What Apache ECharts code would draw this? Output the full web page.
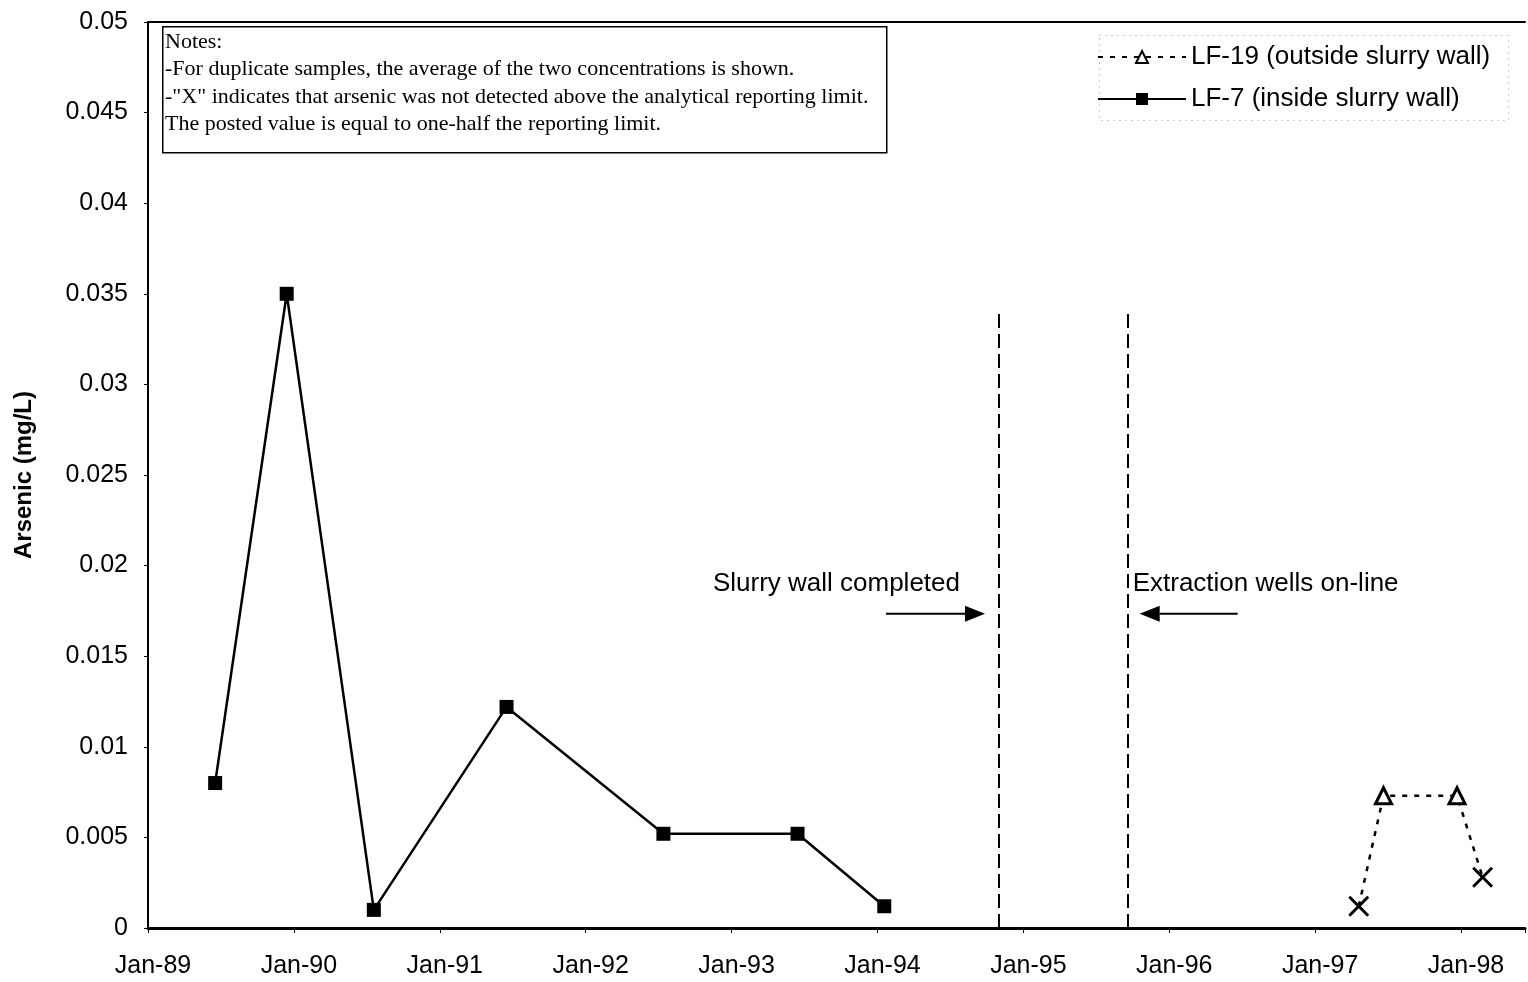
<!DOCTYPE html>
<html>
<head>
<meta charset="utf-8">
<title>Arsenic concentrations, LF-7 and LF-19</title>
<script src="https://cdn.jsdelivr.net/npm/echarts@6/dist/echarts.min.js"></script>
<style>
  html, body { margin: 0; padding: 0; background: #fff; }
  #chart { width: 1528px; height: 982px; }
</style>
</head>
<body>
<div id="chart"></div>
<script>
// ---- data ----
const lf7Dates  = ['1989-06-18', '1989-12-14', '1990-07-20', '1991-06-17', '1992-07-14', '1993-06-15', '1994-01-18'];
const lf7Values = [0.008, 0.035, 0.001, 0.0122, 0.0052, 0.0052, 0.0012];

const lf19Dates     = ['1997-04-20', '1997-06-21', '1997-12-22', '1998-02-24'];
const lf19Values    = [0.0012, 0.0073, 0.0073, 0.0028];
const lf19NotDetect = [true, false, false, true];

const eventDates  = ['1994-11-01', '1995-09-19'];
const eventLabels = ['Slurry wall completed', 'Extraction wells on-line'];
const eventTop    = 0.0342;  // dashed event lines run from 0 up to this level
const eventTextY  = 0.019;   // level of the annotation text

const axisStart = '1989-01-01';
const axisEnd   = '1998-06-10';
const yTicks    = [0, 0.005, 0.01, 0.015, 0.02, 0.025, 0.03, 0.035, 0.04, 0.045, 0.05];

const notes = [
  'Notes:',
  '-For duplicate samples, the average of the two concentrations is shown.',
  '-"X" indicates that arsenic was not detected above the analytical reporting limit.',
  'The posted value is equal to one-half the reporting limit.'
];

// ---- helpers ----
function toYear(s) {
  const d = new Date(s + 'T00:00:00Z');
  const y = d.getUTCFullYear();
  const start = Date.UTC(y, 0, 1), end = Date.UTC(y + 1, 0, 1);
  return y + (d.getTime() - start) / (end - start);
}

const SANS = 'Liberation Sans, Arial, sans-serif';
const SERIF = 'Liberation Serif, Times New Roman, serif';
const crossPath = 'path://M2,0 L10,8 L18,0 L20,2 L12,10 L20,18 L18,20 L10,12 L2,20 L0,18 L8,10 L0,2 Z';

const xMin = toYear(axisStart), xMax = toYear(axisEnd);

const lf7Data = lf7Dates.map((d, i) => [toYear(d), lf7Values[i]]);
const lf19Data = lf19Dates.map((d, i) => lf19NotDetect[i]
  ? { value: [toYear(d), lf19Values[i]], symbol: crossPath, symbolSize: 21,
      itemStyle: { color: '#000', borderWidth: 0 } }
  : { value: [toYear(d), lf19Values[i]] });

const eventLines = eventDates.map(d => [
  { coord: [toYear(d), 0] },
  { coord: [toYear(d), eventTop] }
]);

const chart = echarts.init(document.getElementById('chart'), null, { renderer: 'canvas' });

chart.setOption({
  animation: false,
  backgroundColor: '#fff',
  textStyle: { fontFamily: SANS, color: '#000' },
  grid: { left: 148, right: 0, top: 22, bottom: 54 },
  legend: {
    orient: 'vertical',
    left: 1097, top: 44,
    padding: 0,
    itemWidth: 88, itemHeight: 15, itemGap: 16,
    textStyle: { fontSize: 26, color: '#000', fontFamily: SANS, lineHeight: 26 },
    data: ['LF-19 (outside slurry wall)', 'LF-7 (inside slurry wall)']
  },
  xAxis: [{
    type: 'value', min: xMin, max: xMax, interval: 1,
    axisLine: { lineStyle: { color: '#000', width: 3 } },
    axisTick: { length: 5, lineStyle: { color: '#000', width: 1 } },
    axisLabel: {
      fontSize: 25, color: '#000', margin: 26, fontFamily: SANS,
      padding: [0, 0, 0, 10],
      formatter: v => Math.abs(v - Math.round(v)) < 1e-6 ? 'Jan-' + String(Math.round(v)).slice(2) : ''
    },
    splitLine: { show: false }
  }, {
    type: 'value', position: 'top', min: xMin, max: xMax,
    axisLine: { lineStyle: { color: '#000', width: 2 } },
    axisTick: { show: false }, axisLabel: { show: false }, splitLine: { show: false }
  }],
  yAxis: {
    type: 'value', min: yTicks[0], max: yTicks[yTicks.length - 1], interval: yTicks[1] - yTicks[0],
    name: 'Arsenic (mg/L)', nameLocation: 'middle', nameGap: 112,
    nameTextStyle: { fontSize: 24, fontWeight: 'bold', color: '#000', fontFamily: SANS },
    axisLine: { show: true, lineStyle: { color: '#000', width: 2 } },
    axisTick: { show: true, length: 4, lineStyle: { color: '#000', width: 1 } },
    axisLabel: {
      fontSize: 25, color: '#000', margin: 20, fontFamily: SANS,
      formatter: v => v === 0 ? '0' : String(+v.toFixed(4))
    },
    splitLine: { show: false }
  },
  series: [{
    name: 'LF-19 (outside slurry wall)',
    type: 'line',
    data: lf19Data,
    symbol: 'triangle', symbolSize: 16,
    itemStyle: { color: '#fff', borderColor: '#000', borderWidth: 3 },
    lineStyle: { color: '#000', width: 2.5, type: [5, 7] },
    z: 3
  }, {
    name: 'LF-7 (inside slurry wall)',
    type: 'line',
    data: lf7Data,
    symbol: 'rect', symbolSize: 14,
    itemStyle: { color: '#000' },
    lineStyle: { color: '#000', width: 2.5 },
    z: 3,
    markLine: {
      silent: true, symbol: 'none', animation: false,
      label: { show: false },
      lineStyle: { color: '#000', width: 2, type: [14, 6] },
      data: eventLines
    }
  }]
});

// ---- annotations placed from data coordinates ----
function px(x, y) { return chart.convertToPixel({ gridIndex: 0 }, [x, y]); }

const graphics = [];

// notes box
graphics.push({
  type: 'rect', left: 162, top: 26, z: 10,
  shape: { width: 724, height: 126 },
  style: { fill: '#fff', stroke: '#000', lineWidth: 1.5 }
});
notes.forEach((t, i) => graphics.push({
  type: 'text', x: 165, y: 42 + i * 27.5, z: 11,
  style: { text: t, font: '22px ' + SERIF, fill: '#000', textVerticalAlign: 'middle' }
}));

// legend frame
graphics.push({
  type: 'rect', left: 1097, top: 33, z: 0,
  shape: { width: 409, height: 85 },
  style: { fill: 'none', stroke: '#999', lineWidth: 1, lineDash: [1, 5] }
});

// event annotations: text + arrow pointing at the event line
eventDates.forEach((d, i) => {
  const [lx] = px(toYear(d), 0);
  const [, ty] = px(toYear(d), eventTextY);
  const ay = ty + 30;
  const left = i === 0;
  graphics.push({
    type: 'text', z: 10,
    x: left ? lx - 39 : lx + 5, y: ty,
    style: { text: eventLabels[i], font: '26px ' + SANS, fill: '#000',
             textAlign: left ? 'right' : 'left', textVerticalAlign: 'middle' }
  });
  const tip = left ? lx - 14 : lx + 12;
  const tail = left ? lx - 113 : lx + 110;
  const head = left ? tip - 20 : tip + 20;
  graphics.push({
    type: 'line', z: 10,
    shape: { x1: tail, y1: ay, x2: head, y2: ay },
    style: { stroke: '#000', lineWidth: 2 }
  });
  graphics.push({
    type: 'polygon', z: 10,
    shape: { points: [[tip, ay], [head, ay - 8], [head, ay + 8]] },
    style: { fill: '#000' }
  });
});

chart.setOption({ graphic: graphics });
</script>
</body>
</html>
